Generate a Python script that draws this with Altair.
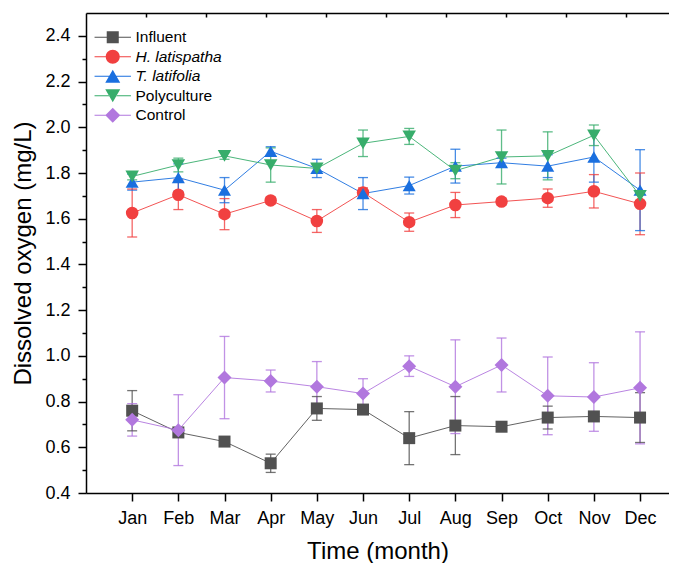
import altair as alt
import pandas as pd

months = ["Jan", "Feb", "Mar", "Apr", "May", "Jun", "Jul", "Aug", "Sep", "Oct", "Nov", "Dec"]
series = ["Influent", "H. latispatha", "T. latifolia", "Polyculture", "Control"]

influent = [0.76, 0.665, 0.625, 0.53, 0.77, 0.765, 0.64, 0.695, 0.69, 0.73, 0.735, 0.73]
influent_err = [0.088, 0.015, 0.012, 0.04, 0.052, 0.02, 0.116, 0.127, 0.012, 0.05, 0.015, 0.109]

h_lat = [1.625, 1.705, 1.62, 1.68, 1.59, 1.715, 1.585, 1.66, 1.675, 1.69, 1.72, 1.665]
h_lat_err = [0.105, 0.065, 0.068, 0.015, 0.05, 0.02, 0.04, 0.055, 0.015, 0.04, 0.073, 0.135]

t_lat = [1.76, 1.78, 1.725, 1.895, 1.82, 1.71, 1.745, 1.83, 1.845, 1.83, 1.87, 1.725]
t_lat_err = [0.035, 0.06, 0.055, 0.02, 0.04, 0.07, 0.037, 0.074, 0.02, 0.05, 0.11, 0.177]

poly = [1.785, 1.835, 1.875, 1.835, 1.82, 1.93, 1.96, 1.81, 1.87, 1.875, 1.965, 1.70]
poly_err = [0.015, 0.03, 0.015, 0.075, 0.015, 0.058, 0.035, 0.035, 0.118, 0.105, 0.045, 0.02]

control = [0.72, 0.675, 0.905, 0.89, 0.865, 0.835, 0.955, 0.865, 0.96, 0.825, 0.82, 0.86]
control_err = [0.071, 0.155, 0.18, 0.048, 0.11, 0.065, 0.045, 0.205, 0.118, 0.17, 0.15, 0.245]

colors = ["#515151", "#F14040", "#1A6FDF", "#37AD6B", "#B177DE"]
shapes = ["square", "circle", "triangle-up", "triangle-down", "diamond"]
sizes = [144, 196, 225, 225, 225]
legend_paths = [
    "M-2.6,-0.07H-0.86V0.07H-2.6Z M0.86,-0.07H2.6V0.07H0.86Z M-0.86,-0.86H0.86V0.86H-0.86Z",
    "M-2.6,-0.07H-1V0.07H-2.6Z M1,-0.07H2.6V0.07H1Z M1,0A1,1 0 1,1 -1,0A1,1 0 1,1 1,0Z",
    "M-2.6,-0.07H-0.5V0.07H-2.6Z M0.5,-0.07H2.6V0.07H0.5Z M0,-0.93L1.07,0.93L-1.07,0.93Z",
    "M-2.6,-0.07H-0.5V0.07H-2.6Z M0.5,-0.07H2.6V0.07H0.5Z M0,0.93L1.07,-0.93L-1.07,-0.93Z",
    "M-2.6,-0.07H-1V0.07H-2.6Z M1,-0.07H2.6V0.07H1Z M0,-1.07L1.07,0L0,1.07L-1.07,0Z",
]
y_ticks = [round(0.4 + 0.1 * i, 1) for i in range(21)]
x_ticks = list(range(1, 13))
top_ticks = [1.3, 2.6, 3.9, 5.2, 6.5, 7.8, 9.1, 10.4, 11.7]

values = [influent, h_lat, t_lat, poly, control]
errors = [influent_err, h_lat_err, t_lat_err, poly_err, control_err]

rows = []
for s, vals, errs in zip(series, values, errors):
    for i, (v, e) in enumerate(zip(vals, errs)):
        rows.append({"m": i + 1, "series": s, "value": v, "lo": v - e, "hi": v + e})
df = pd.DataFrame(rows)

FONT = "Liberation Sans"
month_expr = "[" + ",".join("'%s'" % m for m in months) + "][datum.value - 1]"

xscale = alt.Scale(domain=[0, 12.627], nice=False, zero=False)
yscale = alt.Scale(domain=[0.4, 2.5], nice=False, zero=False)

color_nl = alt.Color("series:N", scale=alt.Scale(domain=series, range=colors), legend=None)

x_main_axis = alt.Axis(
    values=x_ticks, labelExpr=month_expr, title="Time (month)", tickSize=8,
    labelPadding=8, titleBaseline="alphabetic", titleY=65.5, labelFlush=False,
)
x_top_axis = alt.Axis(
    orient="bottom", offset=-480, values=top_ticks, labels=False, title=None, tickSize=4,
)
y_axis = alt.Axis(
    values=y_ticks,
    labelExpr="round(datum.value*10) % 2 == 0 ? format(datum.value, '.1f') : ''",
    tickSize={"condition": {"test": "round(datum.value*10) % 2 == 0", "value": 8}, "value": 4},
    title="Dissolved oxygen (mg/L)", labelPadding=8, titleBaseline="alphabetic", titleX=-56,
)

base = alt.Chart(df)

lines = base.mark_line(strokeWidth=1, opacity=0.9).encode(
    x=alt.X("m:Q", scale=xscale, axis=x_main_axis),
    y=alt.Y("value:Q", scale=yscale, axis=y_axis),
    color=color_nl,
    detail="series:N",
    order="m:Q",
)

err_rules = base.mark_rule(strokeWidth=1.3, opacity=0.8).encode(
    x=alt.X("m:Q", scale=xscale, axis=x_top_axis),
    y=alt.Y("lo:Q", scale=yscale, axis=None),
    y2="hi:Q",
    color=color_nl,
)
cap_lo = base.mark_tick(orient="horizontal", size=10, thickness=1.3, opacity=0.8).encode(
    x=alt.X("m:Q", scale=xscale, axis=None),
    y=alt.Y("lo:Q", scale=yscale, axis=None),
    color=color_nl,
)
cap_hi = base.mark_tick(orient="horizontal", size=10, thickness=1.3, opacity=0.8).encode(
    x=alt.X("m:Q", scale=xscale, axis=None),
    y=alt.Y("hi:Q", scale=yscale, axis=None),
    color=color_nl,
)

points = base.mark_point(filled=True, opacity=1, strokeWidth=0).encode(
    x=alt.X("m:Q", scale=xscale, axis=None),
    y=alt.Y("value:Q", scale=yscale, axis=None),
    color=color_nl,
    shape=alt.Shape("series:N", scale=alt.Scale(domain=series, range=shapes), legend=None),
    size=alt.Size("series:N", scale=alt.Scale(domain=series, range=sizes), legend=None),
)

legend_cfg = alt.Legend(
    orient="none", legendX=19, legendY=16.5, title=None,
    labelFont=FONT, labelFontSize=15.5, labelColor="black",
    labelFontStyle={"expr": "datum.label == 'H. latispatha' || datum.label == 'T. latifolia' ? 'italic' : 'normal'"},
    symbolSize=196, symbolStrokeWidth=0, labelOffset=15, rowPadding=2.5, padding=0,
    symbolOpacity=1,
)
legend_layer = base.mark_point(filled=True, opacity=0).encode(
    x=alt.X("m:Q", scale=xscale, axis=None),
    y=alt.Y("value:Q", scale=yscale, axis=None),
    color=alt.Color("series:N", scale=alt.Scale(domain=series, range=colors), legend=legend_cfg),
    shape=alt.Shape("series:N", scale=alt.Scale(domain=series, range=legend_paths), legend=legend_cfg),
)

chart = alt.layer(lines, err_rules, cap_lo, cap_hi, points, legend_layer).resolve_scale(
    color="independent", shape="independent"
).resolve_axis(x="independent", y="independent").properties(
    width=583, height=480,
    autosize=alt.AutoSizeParams(type="none"),
    padding={"left": 78, "top": 5, "right": 0, "bottom": 70},
).configure_view(stroke=None).configure_axis(
    grid=False, domainColor="black", domainWidth=1.5, tickColor="black", tickWidth=1.5,
    labelFont=FONT, labelFontSize=18, labelColor="black",
    titleFont=FONT, titleFontSize=24, titleFontWeight="normal", titleColor="black",
)

chart.save("out.html", embed_options={"renderer": "svg", "actions": False})
